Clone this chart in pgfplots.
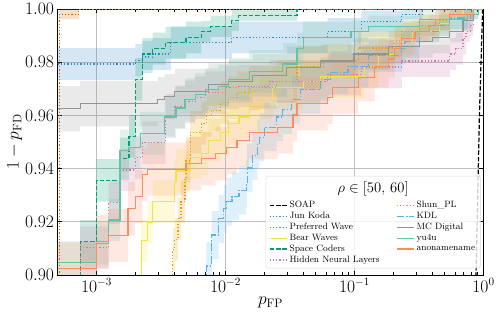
\documentclass[border=0pt]{standalone}
\usepackage{pgfplots}
\pgfplotsset{compat=1.18}
\usepackage{pgfplotstable}
\usepgfplotslibrary{fillbetween}

\definecolor{JKc}{HTML}{2F86C8}
\definecolor{PWc}{HTML}{D55E00}
\definecolor{BWc}{HTML}{F0E442}
\definecolor{SCc}{HTML}{009E73}
\definecolor{HNc}{HTML}{CC79A7}
\definecolor{SPc}{HTML}{E69F00}
\definecolor{KDc}{HTML}{56B4E9}
\definecolor{MCc}{HTML}{949494}
\definecolor{YUc}{HTML}{66C2A5}
\definecolor{ANc}{HTML}{FC8D62}

\tikzset{
  lwd/.style={line width=1.2pt},
  sdash/.style={line width=1.2pt, dash pattern=on 4.4pt off 1.9pt},
  sdot/.style={line width=1.2pt, dash pattern=on 1.2pt off 2pt},
  sdashdot/.style={line width=1.2pt, dash pattern=on 7.7pt off 1.9pt on 1.2pt off 1.9pt},
}

\pgfplotstableread{
x y
0.86 0.88
0.875 0.90
0.93 0.96
0.985 1.0
1.0 1.0
}\SOAP

\pgfplotstableread{
x y lo hi
5.0e-4 0.9793 0.9733 0.9853
2.0e-3 0.9808 0.9748 0.9868
2.27e-3 0.9820 0.9760 0.9880
2.72e-3 0.9831 0.9771 0.9891
3.77e-3 0.9874 0.9814 0.9934
1.12e-2 0.9893 0.9833 0.9953
6.2e-2 0.9916 0.9866 0.9966
0.113 0.9954 0.9914 0.9994
0.233 0.9981 0.9961 1.0
0.336 1.0 1.0 1.0
1.0 1.0 1.0 1.0
}\JK

\pgfplotstableread{
x y lo hi
5.0e-4 0.85 0.85 0.85
5.15e-4 0.9981 0.9962 1.0
7.3e-4 1.0 1.0 1.0
1.0 1.0 1.0 1.0
}\PW

\pgfplotstableread{
x y lo hi
5.0e-4 0.85 0.84 0.86
7.48e-4 0.9126 0.9046 0.9206
1.0e-3 0.9356 0.9276 0.9436
1.52e-3 0.9437 0.9357 0.9517
1.79e-3 0.9521 0.9441 0.9601
2.0e-3 0.9736 0.9656 0.9816
2.265e-3 0.9831 0.9771 0.9891
2.72e-3 0.9851 0.9791 0.9911
3.44e-3 0.9874 0.9814 0.9934
4.95e-3 0.9893 0.9833 0.9953
6.5e-3 0.9916 0.9876 0.9956
7.66e-3 0.9935 0.9895 0.9975
1.12e-2 0.9958 0.9918 0.9998
1.27e-2 0.9977 0.9957 1.0
3.59e-2 1.0 1.0 1.0
1.0 1.0 1.0 1.0
}\SC

\pgfplotstableread{
x y lo hi
5.0e-4 0.9046 0.8966 0.9126
1.0e-3 0.9119 0.9039 0.9199
1.244e-3 0.9207 0.9127 0.9287
1.52e-3 0.9467 0.9387 0.9547
1.79e-3 0.9479 0.9399 0.9559
2.18e-3 0.9533 0.9453 0.9613
3.38e-3 0.9594 0.9514 0.9674
4.13e-3 0.9628 0.9548 0.9708
4.86e-3 0.9659 0.9579 0.9739
5.83e-3 0.9678 0.9598 0.9758
6.99e-3 0.9697 0.9617 0.9777
8.85e-3 0.9709 0.9629 0.9789
1.062e-2 0.9736 0.9656 0.9816
1.527e-2 0.9766 0.9686 0.9846
2.78e-2 0.9793 0.9713 0.9873
3.59e-2 0.9851 0.9791 0.9911
4.0e-2 0.9893 0.9833 0.9953
9.4e-2 0.9916 0.9876 0.9956
0.128 0.9935 0.9895 0.9975
0.318 0.9962 0.9922 1.0
0.75 0.9981 0.9961 1.0
0.91 1.0 1.0 1.0
1.0 1.0 1.0 1.0
}\YU

\pgfplotstableread{
x y lo hi
5.0e-4 0.9625 0.9540 0.9710
7.48e-4 0.9644 0.9559 0.9729
2.98e-3 0.9659 0.9574 0.9744
3.38e-3 0.9670 0.9585 0.9755
4.05e-3 0.9690 0.9605 0.9775
7.38e-3 0.9716 0.9636 0.9796
1.062e-2 0.9728 0.9648 0.9808
1.613e-2 0.9751 0.9671 0.9831
2.99e-2 0.9780 0.9700 0.9860
5.45e-2 0.9805 0.9745 0.9865
9.93e-2 0.9831 0.9771 0.9891
0.184 0.9858 0.9798 0.9918
0.318 0.9877 0.9817 0.9937
0.403 0.9893 0.9833 0.9953
0.548 0.9916 0.9876 0.9956
0.694 0.9958 0.9918 0.9998
0.832 1.0 1.0 1.0
1.0 1.0 1.0 1.0
}\MC

\pgfplotstableread{
x y lo hi
5.0e-4 0.85 0.84 0.86
7.48e-4 0.9103 0.9023 0.9183
1.244e-3 0.9272 0.9192 0.9352
1.52e-3 0.9395 0.9315 0.9475
1.995e-3 0.9441 0.9361 0.9521
2.265e-3 0.9498 0.9418 0.9578
3.44e-3 0.9600 0.9520 0.9680
4.05e-3 0.9632 0.9552 0.9712
4.86e-3 0.9651 0.9571 0.9731
5.83e-3 0.9667 0.9587 0.9747
6.99e-3 0.9686 0.9606 0.9766
1.005e-2 0.9705 0.9625 0.9785
1.274e-2 0.9710 0.9630 0.9790
2.2e-2 0.9728 0.9648 0.9808
6.19e-2 0.9755 0.9675 0.9835
0.1127 0.9782 0.9702 0.9862
0.233 0.9805 0.9745 0.9865
0.548 0.9831 0.9771 0.9891
0.611 0.9851 0.9791 0.9911
0.694 0.9889 0.9829 0.9949
0.733 0.9916 0.9876 0.9956
0.788 0.9939 0.9899 0.9979
0.832 1.0 1.0 1.0
1.0 1.0 1.0 1.0
}\HN

\pgfplotstableread{
x y lo hi
5.0e-4 0.85 0.84 0.86
3.91e-3 0.9096 0.9016 0.9176
4.05e-3 0.9134 0.9054 0.9214
4.28e-3 0.9211 0.9131 0.9291
4.52e-3 0.9276 0.9196 0.9356
4.86e-3 0.9364 0.9284 0.9444
4.95e-3 0.9429 0.9349 0.9509
5.32e-3 0.9536 0.9456 0.9616
6.5e-3 0.9570 0.9490 0.9650
7.12e-3 0.9600 0.9520 0.9680
7.8e-3 0.9620 0.9540 0.9700
9.18e-3 0.9648 0.9568 0.9728
1.062e-2 0.9667 0.9587 0.9747
1.228e-2 0.9686 0.9606 0.9766
1.527e-2 0.9705 0.9625 0.9785
2.49e-2 0.9728 0.9648 0.9808
3.59e-2 0.9782 0.9702 0.9862
5.75e-2 0.9808 0.9748 0.9868
0.1067 0.9854 0.9794 0.9914
0.2055 0.9877 0.9817 0.9937
0.233 0.9916 0.9876 0.9956
0.318 0.9939 0.9899 0.9979
0.457 0.9958 0.9918 0.9998
0.548 0.9981 0.9961 1.0
0.832 1.0 1.0 1.0
1.0 1.0 1.0 1.0
}\SP

\pgfplotstableread{
x y lo hi
5.0e-4 0.85 0.84 0.86
2.22e-3 0.9130 0.9050 0.9210
2.48e-3 0.9199 0.9119 0.9279
2.72e-3 0.9276 0.9196 0.9356
4.05e-3 0.9352 0.9272 0.9432
4.13e-3 0.9391 0.9311 0.9471
5.32e-3 0.9441 0.9361 0.9521
6.5e-3 0.9456 0.9376 0.9536
7.38e-3 0.9506 0.9426 0.9586
9.18e-3 0.9536 0.9456 0.9616
1.062e-2 0.9571 0.9491 0.9651
1.274e-2 0.9594 0.9514 0.9674
1.527e-2 0.9621 0.9541 0.9701
1.832e-2 0.9667 0.9587 0.9747
2.32e-2 0.9705 0.9625 0.9785
4.0e-2 0.9728 0.9648 0.9808
5.45e-2 0.9747 0.9667 0.9827
0.119 0.9785 0.9705 0.9865
0.1535 0.9830 0.9770 0.9890
0.2055 0.9877 0.9817 0.9937
0.28 0.9916 0.9876 0.9956
0.457 0.9946 0.9906 0.9986
0.548 0.9981 0.9961 1.0
0.694 1.0 1.0 1.0
1.0 1.0 1.0 1.0
}\BW

\pgfplotstableread{
x y lo hi
5.0e-4 0.9023 0.8923 0.9123
1.0e-3 0.9126 0.9026 0.9226
1.244e-3 0.9149 0.9049 0.9249
1.757e-3 0.9249 0.9149 0.9349
1.995e-3 0.9295 0.9195 0.9395
2.265e-3 0.9379 0.9279 0.9479
2.48e-3 0.9398 0.9298 0.9498
4.95e-3 0.9418 0.9318 0.9518
6.5e-3 0.9437 0.9337 0.9537
8.38e-3 0.9456 0.9356 0.9556
1.024e-2 0.9480 0.9380 0.9580
1.228e-2 0.9506 0.9406 0.9606
1.527e-2 0.9536 0.9436 0.9636
2.54e-2 0.9556 0.9456 0.9656
3.34e-2 0.9602 0.9502 0.9702
3.59e-2 0.9644 0.9544 0.9744
6.19e-2 0.9667 0.9567 0.9767
6.78e-2 0.9705 0.9605 0.9805
0.1067 0.9743 0.9653 0.9833
0.143 0.9785 0.9705 0.9865
0.184 0.9812 0.9742 0.9882
0.2055 0.9851 0.9791 0.9911
0.233 0.9889 0.9829 0.9949
0.295 0.9916 0.9876 0.9956
0.381 0.9939 0.9899 0.9979
0.425 0.9962 0.9922 1.0
0.548 0.9981 0.9961 1.0
0.832 1.0 1.0 1.0
1.0 1.0 1.0 1.0
}\AN

\pgfplotstableread{
x y lo hi
5.0e-4 0.85 0.84 0.86
7.12e-3 0.9034 0.8944 0.9124
7.8e-3 0.9150 0.9060 0.9240
8.85e-3 0.9211 0.9121 0.9301
9.7e-3 0.9249 0.9159 0.9339
1.024e-2 0.9276 0.9186 0.9366
1.122e-2 0.9295 0.9205 0.9385
1.274e-2 0.9318 0.9228 0.9408
1.446e-2 0.9341 0.9251 0.9431
1.472e-2 0.9402 0.9312 0.9492
1.613e-2 0.9448 0.9358 0.9538
1.766e-2 0.9494 0.9404 0.9584
1.832e-2 0.9517 0.9427 0.9607
2.005e-2 0.9556 0.9466 0.9646
2.49e-2 0.9594 0.9504 0.9684
2.78e-2 0.9621 0.9531 0.9711
3.27e-2 0.9659 0.9569 0.9749
3.79e-2 0.9697 0.9607 0.9787
5.45e-2 0.9736 0.9656 0.9816
6.5e-2 0.9762 0.9682 0.9842
8.9e-2 0.9785 0.9705 0.9865
0.128 0.9824 0.9764 0.9884
0.233 0.9851 0.9791 0.9911
0.246 0.9877 0.9817 0.9937
0.318 0.9916 0.9876 0.9956
0.45 0.9939 0.9899 0.9979
0.548 0.9966 0.9926 1.0
0.788 0.9981 0.9961 1.0
0.912 1.0 1.0 1.0
1.0 1.0 1.0 1.0
}\KD

\newcommand{\bandplot}[3]{%
  \addplot[draw=none, forget plot, const plot, name path=#1lo] table[x=x,y=lo]{#2};
  \addplot[draw=none, forget plot, const plot, name path=#1hi] table[x=x,y=hi]{#2};
  \addplot[fill=#3, fill opacity=0.2, draw=none, forget plot] fill between[of=#1hi and #1lo];
}

\begin{document}
\begin{tikzpicture}
\begin{axis}[
  xmode=log,
  scale only axis,
  width=418pt, height=261pt,
  xmin=5e-4, xmax=1, ymin=0.9, ymax=1.0,
  xtick={1e-3,1e-2,1e-1,1},
  ytick={0.90,0.92,0.94,0.96,0.98,1.00},
  yticklabel style={/pgf/number format/.cd, fixed, fixed zerofill, precision=2},
  tick label style={font=\fontsize{16}{18}\selectfont},
  label style={font=\fontsize{17}{20}\selectfont},
  xlabel={$p_{\mathrm{FP}}$},
  ylabel={\rule{0pt}{15pt}$1-p_{\mathrm{FD}}$},
  xlabel style={yshift=2pt},
  ylabel style={yshift=-4pt},
  grid=major,
  major grid style={line width=0.6pt, black!25},
  axis line style={line width=0.7pt},
  tick style={black, line width=0.6pt},
  major tick length=4pt, minor tick length=2.5pt,
  legend cell align=left,
  legend columns=2,
  legend style={
    at={(0.993,0.025)}, anchor=south east,
    font=\fontsize{9}{10.5}\selectfont,
    draw=black!15, rounded corners=2pt,
    fill=white, fill opacity=0.8, text opacity=1,
    row sep=-1pt,
    /tikz/every even column/.append style={column sep=14pt},
    label={[anchor=north, yshift=-2pt, text opacity=1, fill opacity=0, font=\fontsize{15.5}{18}\selectfont]north:$\rho\in[50,\,60]$},
  },
]
\bandplot{JK}{\JK}{JKc}
\bandplot{PW}{\PW}{PWc}
\bandplot{BW}{\BW}{BWc}
\bandplot{SC}{\SC}{SCc}
\bandplot{HN}{\HN}{HNc}
\bandplot{SP}{\SP}{SPc}
\bandplot{KD}{\KD}{KDc}
\bandplot{MC}{\MC}{MCc}
\bandplot{YU}{\YU}{YUc}
\bandplot{AN}{\AN}{ANc}

\addplot[black, sdash, forget plot] table[x=x,y=y]{\SOAP};
\addplot[JKc, sdot, const plot, forget plot] table[x=x,y=y]{\JK};
\addplot[PWc, sdot, const plot, forget plot] table[x=x,y=y]{\PW};
\addplot[BWc, lwd, const plot, forget plot] table[x=x,y=y]{\BW};
\addplot[SCc, sdash, const plot, forget plot] table[x=x,y=y]{\SC};
\addplot[HNc, sdot, const plot, forget plot] table[x=x,y=y]{\HN};
\addplot[SPc, sdot, const plot, forget plot] table[x=x,y=y]{\SP};
\addplot[KDc, sdashdot, const plot, forget plot] table[x=x,y=y]{\KD};
\addplot[MCc, lwd, const plot, forget plot] table[x=x,y=y]{\MC};
\addplot[YUc, lwd, const plot, forget plot] table[x=x,y=y]{\YU};
\addplot[ANc, lwd, const plot, forget plot] table[x=x,y=y]{\AN};

\addlegendimage{empty legend}\addlegendentry{\rule{0pt}{16pt}}
\addlegendimage{empty legend}\addlegendentry{}
\addlegendimage{black, sdash}\addlegendentry{SOAP}
\addlegendimage{SPc, sdot}\addlegendentry{Shun\_PL}
\addlegendimage{JKc, sdot}\addlegendentry{Jun Koda}
\addlegendimage{KDc, sdashdot}\addlegendentry{KDL}
\addlegendimage{PWc, sdot}\addlegendentry{Preferred Wave}
\addlegendimage{MCc, lwd}\addlegendentry{MC Digital}
\addlegendimage{BWc, lwd}\addlegendentry{Bear Waves}
\addlegendimage{YUc, lwd}\addlegendentry{yu4u}
\addlegendimage{SCc, sdash}\addlegendentry{Space Coders}
\addlegendimage{ANc, lwd}\addlegendentry{anonamename}
\addlegendimage{HNc, sdot}\addlegendentry{Hidden Neural Layers}
\end{axis}
\end{tikzpicture}
\end{document}
